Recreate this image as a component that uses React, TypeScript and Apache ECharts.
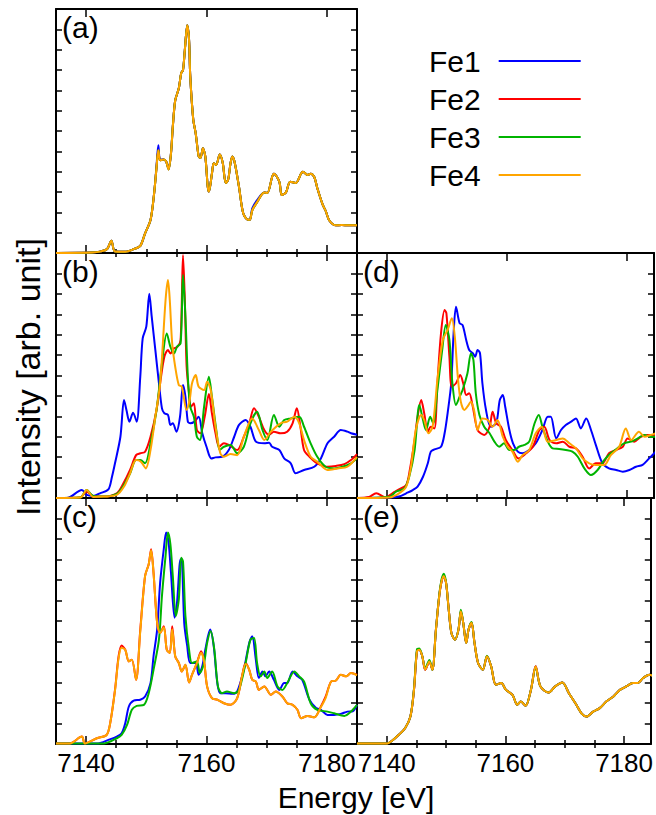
import { useEffect, useRef } from "react";
import * as echarts from "echarts";

const SERIES_NAMES = ["Fe1", "Fe2", "Fe3", "Fe4"];
const SERIES_COLORS = ["#0000ff", "#ff0000", "#00b400", "#ffa500"];
const MAJOR_TICKS = [7140, 7160, 7180];
const MINOR_TICKS = [7145, 7150, 7155, 7165, 7170, 7175];
const PANEL_LABELS = ["(a)", "(b)", "(c)", "(d)", "(e)"];
const X_TITLE = "Energy [eV]";
const Y_TITLE = "Intensity [arb. unit]";

// ---------- panel (a) ----------
const aFe1 = [[7135,0],[7141,0.02],[7142.5,0.08],[7143.5,0.2],[7144.2,0.6],[7144.8,0.07],[7146.5,0.06],[7148,0.2],[7149,0.35],[7149.8,0.97],[7150.7,1.62],[7151.3,2.93],[7151.7,4.3],[7152,5.3],[7152.3,4.6],[7152.9,4.6],[7153.3,4.5],[7153.7,4.15],[7154.1,4.9],[7154.4,6.2],[7154.8,7.5],[7155.4,8.1],[7155.8,8.85],[7156.1,9.0],[7156.4,9.98],[7156.8,11.2],[7157.1,10.5],[7157.3,8.7],[7157.8,6.56],[7158.2,5.9],[7158.7,4.75],[7159.0,4.67],[7159.4,5.15],[7159.8,4.75],[7160.2,3.28],[7160.4,3.02],[7160.9,3.9],[7161.2,4.41],[7161.6,4.33],[7162.2,4.85],[7162.7,4.43],[7163.2,3.44],[7163.6,3.61],[7164,4.43],[7164.3,4.75],[7164.7,4.43],[7165.4,3.25],[7166.1,1.95],[7166.9,1.64],[7167.2,1.64],[7167.6,2.2],[7168.4,2.6],[7169.6,2.98],[7170.1,2.95],[7170.9,3.74],[7171.2,3.9],[7172.1,3.5],[7172.5,2.85],[7173.2,2.98],[7173.9,3.51],[7174.8,3.44],[7175.7,3.9],[7176,4.0],[7176.8,3.84],[7177.3,3.9],[7177.9,3.74],[7178.4,3.2],[7179.3,2.38],[7179.8,2.07],[7180.4,1.6],[7181.5,1.36],[7182.5,1.38],[7183.5,1.36],[7185,1.36]];
const aRest = [[7135,0],[7141,0.02],[7142.5,0.08],[7143.5,0.2],[7144.2,0.6],[7144.8,0.07],[7146.5,0.06],[7148,0.2],[7149,0.35],[7149.8,0.97],[7150.7,1.62],[7151.3,2.93],[7151.7,4.2],[7152,5.05],[7152.3,4.56],[7152.9,4.6],[7153.3,4.5],[7153.7,4.11],[7154.1,4.9],[7154.4,6.2],[7154.8,7.5],[7155.4,8.1],[7155.8,8.85],[7156.1,9.0],[7156.4,9.98],[7156.8,11.2],[7157.1,10.5],[7157.3,8.7],[7157.8,6.56],[7158.2,5.9],[7158.7,4.75],[7159.0,4.67],[7159.4,5.15],[7159.8,4.75],[7160.2,3.28],[7160.4,3.02],[7160.9,3.9],[7161.2,4.41],[7161.6,4.33],[7162.2,4.85],[7162.7,4.43],[7163.2,3.44],[7163.6,3.61],[7164,4.43],[7164.3,4.75],[7164.7,4.43],[7165.4,3.25],[7166.1,1.95],[7166.9,1.64],[7167.2,1.64],[7167.6,2.1],[7168.4,2.5],[7169.6,2.98],[7170.1,2.95],[7170.9,3.74],[7171.2,3.9],[7172.1,3.5],[7172.5,2.85],[7173.2,2.98],[7173.9,3.51],[7174.8,3.44],[7175.7,3.9],[7176,4.0],[7176.8,3.84],[7177.3,3.9],[7177.9,3.74],[7178.4,3.2],[7179.3,2.38],[7179.8,2.07],[7180.4,1.6],[7181.5,1.36],[7182.5,1.38],[7183.5,1.36],[7185,1.36]];

// ---------- panel (b) ----------
const bFe1 = [[7135,0],[7136.8,0.0],[7139.3,0.39],[7140.1,0.15],[7141.2,0.1],[7142.3,0.23],[7143.7,0.42],[7144.3,1.04],[7144.8,1.7],[7145.7,3.0],[7146.3,4.8],[7146.7,4.31],[7147.2,3.74],[7147.8,4.18],[7148.4,3.74],[7149,5.94],[7149.4,7.82],[7150,8.39],[7150.5,10.0],[7150.9,8.88],[7151.5,7.25],[7152.1,5.62],[7152.6,4.39],[7153,4.15],[7153.6,4.07],[7154,3.58],[7154.4,3.66],[7155,3.25],[7155.6,3.98],[7156.1,5.53],[7156.5,4.96],[7156.9,3.74],[7157.3,3.66],[7158,3.74],[7158.7,3.98],[7159.3,3.17],[7160,2.51],[7160.8,1.94],[7161.5,1.99],[7162.6,2.02],[7163.7,2.35],[7164.6,3.0],[7165.4,3.58],[7166.5,3.82],[7167.3,3.49],[7168.2,2.76],[7169.6,2.68],[7170.4,2.71],[7170.9,2.51],[7172.1,2.35],[7172.9,1.94],[7174,1.7],[7174.8,1.21],[7176.2,1.37],[7177.9,1.53],[7179,1.94],[7180.1,2.68],[7181.2,3.0],[7182.3,3.33],[7183.4,3.25],[7184,3.17],[7185,3.1]];
const bFe2 = [[7135,0],[7139,0.02],[7140.1,0.31],[7141.2,0.1],[7142.9,0.07],[7145.1,0.23],[7146.2,0.72],[7147.3,1.37],[7148.3,2.1],[7149,2.19],[7149.8,2.27],[7150.7,3.0],[7151.7,4.31],[7152.3,5.62],[7153,6.92],[7153.6,7.25],[7154,7.08],[7154.6,7.33],[7155.2,7.41],[7155.7,7.74],[7156.1,11.9],[7156.4,9.7],[7156.7,6.43],[7157.1,5.13],[7157.4,4.47],[7157.9,4.64],[7158.4,3.33],[7159,3.17],[7159.7,3.98],[7160.4,5.09],[7160.9,4.15],[7161.5,3.17],[7162.1,2.51],[7162.9,2.68],[7163.7,2.6],[7165.1,2.35],[7166.2,3.0],[7167.1,3.66],[7167.9,4.39],[7168.7,3.98],[7169.6,3.33],[7170.4,3.09],[7171.2,3.25],[7172.3,3.17],[7173.4,3.25],[7174.3,3.66],[7175,4.39],[7175.6,3.49],[7176.2,2.35],[7177.1,2.02],[7178.4,1.7],[7180.1,1.53],[7181.5,1.57],[7182.9,1.66],[7184,1.86],[7185,2.15]];
const bFe3 = [[7135,0],[7139,0.02],[7140.1,0.39],[7141.2,0.1],[7142.9,0.07],[7145.1,0.2],[7146.2,0.6],[7147.3,1.2],[7148.3,1.86],[7149,1.86],[7149.8,1.7],[7150.7,2.68],[7151.7,4.31],[7152.6,6.6],[7153.4,8.06],[7154,7.41],[7154.6,7.08],[7155.1,7.41],[7155.7,7.57],[7156.1,10.92],[7156.5,8.88],[7156.9,5.94],[7157.3,4.47],[7157.9,3.98],[7158.4,3.0],[7158.9,2.84],[7159.6,4.47],[7160.4,5.94],[7160.9,4.96],[7161.7,3.17],[7162.2,2.35],[7162.9,2.51],[7164,2.6],[7165.1,2.19],[7166.2,2.51],[7167.3,3.66],[7168.4,4.23],[7169.3,3.33],[7170.1,2.84],[7171.2,4.07],[7172.1,3.49],[7172.9,3.82],[7174,3.9],[7175.4,3.98],[7176.2,3.49],[7177.3,2.68],[7178.4,2.02],[7179.8,1.53],[7181.2,1.45],[7182.6,1.53],[7184,1.7],[7185,1.94]];
const bFe4 = [[7135,0],[7139,0.02],[7140.1,0.39],[7141.2,0.05],[7142.9,0.07],[7145.1,0.15],[7146.3,0.56],[7147.3,1.21],[7148.3,1.86],[7149.1,1.78],[7149.9,1.45],[7150.7,2.35],[7151.5,3.98],[7152.3,5.62],[7153.2,9.7],[7153.6,10.68],[7153.9,9.7],[7154.3,7.57],[7154.8,6.43],[7155.4,5.53],[7155.9,5.45],[7156.7,4.31],[7157.2,4.8],[7157.6,5.62],[7158.2,6.02],[7158.7,5.45],[7159.6,5.29],[7160.1,5.7],[7160.7,5.29],[7161.5,3.49],[7162.3,2.19],[7162.9,2.02],[7164,2.15],[7165.1,2.1],[7166.2,3.0],[7167.6,3.9],[7168.7,3.33],[7169.6,2.84],[7170.7,3.25],[7172.3,3.66],[7173.4,3.74],[7174.6,3.98],[7175.4,3.66],[7176.2,2.84],[7177.3,2.02],[7178.4,1.78],[7180.1,1.37],[7181.8,1.45],[7183.4,1.53],[7185,2.02]];

// ---------- panel (c) ----------
const cFe1 = [[7135,0.02],[7142,0.03],[7143.7,0.2],[7145.1,0.36],[7145.9,0.52],[7146.5,1.01],[7147.1,1.83],[7147.9,2.12],[7149,2.16],[7149.8,2.32],[7150.7,2.97],[7151.2,4.28],[7151.8,5.58],[7152.3,7.87],[7152.9,9.5],[7153.3,10.32],[7153.7,9.83],[7154.1,8.36],[7154.7,6.16],[7155.1,6.89],[7155.7,9.01],[7155.9,9.0],[7156.3,5.91],[7156.8,4.77],[7157.3,3.95],[7158.2,3.95],[7158.7,3.38],[7159.3,3.79],[7159.8,4.6],[7160.6,5.58],[7161.2,4.77],[7161.8,2.97],[7162.3,2.48],[7163.2,2.48],[7164.3,2.45],[7165.1,2.56],[7166.2,3.62],[7167.1,4.93],[7167.6,5.26],[7168.2,4.11],[7168.7,3.22],[7169.3,3.54],[7169.8,3.3],[7170.4,3.54],[7171.2,3.13],[7172.1,2.64],[7172.9,2.97],[7173.4,2.97],[7174.3,3.54],[7175.1,3.3],[7175.9,3.13],[7177.1,2.16],[7178.2,1.75],[7179,1.67],[7180.1,1.42],[7181.2,1.42],[7182.3,1.47],[7183.4,1.58],[7184.3,1.6],[7185,1.91]];
const cFe2 = [[7135,0.02],[7137.3,0.03],[7139.3,0.36],[7139.8,0.03],[7141.8,0.28],[7143.4,0.44],[7144,1.01],[7144.8,2.64],[7145.4,4.28],[7145.9,4.8],[7146.5,4.6],[7147.1,4.03],[7147.6,4.11],[7148.3,3.13],[7149,5.58],[7149.8,8.2],[7150.4,8.77],[7150.8,9.5],[7151.2,8.36],[7151.8,5.91],[7152.3,5.42],[7152.9,5.75],[7153.4,4.6],[7153.9,4.44],[7154.3,5.75],[7154.8,4.28],[7155.4,3.95],[7155.9,3.54],[7156.5,3.87],[7157.1,3.0],[7157.6,3.38],[7158.4,3.95],[7159.1,4.52],[7159.6,4.03],[7160.1,2.81],[7160.9,2.24],[7161.8,2.16],[7162.9,1.99],[7164,1.91],[7165.1,2.24],[7165.9,3.3],[7166.5,3.95],[7167.1,3.62],[7167.6,3.13],[7168.2,3.05],[7168.7,2.64],[7169.6,2.81],[7170.7,2.4],[7171.5,2.56],[7172.6,2.32],[7173.4,1.99],[7174.3,1.91],[7175.1,1.67],[7175.7,1.26],[7176.8,1.37],[7177.9,1.3],[7179,1.83],[7179.8,2.32],[7180.7,3.05],[7181.5,3.1],[7182.3,3.38],[7183.2,3.3],[7184,3.46],[7185,3.38]];
const cFe3 = [[7135,0.02],[7143,0.03],[7145.1,0.28],[7145.9,0.44],[7146.8,0.93],[7147.6,1.67],[7148.4,1.86],[7149.6,1.91],[7150.4,2.48],[7151.2,3.62],[7152.1,5.09],[7152.6,7.22],[7153.2,9.18],[7153.6,10.32],[7154,9.75],[7154.4,8.2],[7154.9,6.24],[7155.4,7.05],[7155.8,9.09],[7156.1,8.9],[7156.5,6.24],[7157.1,4.6],[7157.6,3.95],[7158.4,4.03],[7158.9,3.46],[7159.6,3.95],[7160.1,4.93],[7160.7,5.5],[7161.3,4.6],[7161.9,2.81],[7162.6,2.48],[7163.4,2.56],[7164.6,2.48],[7165.4,2.64],[7166.5,3.95],[7167.3,5.09],[7167.9,5.17],[7168.4,3.95],[7169,3.3],[7169.6,3.54],[7170.1,3.22],[7170.9,3.54],[7171.8,2.81],[7172.6,2.64],[7173.4,2.97],[7174.6,3.54],[7175.4,3.3],[7176.2,3.05],[7177.3,1.99],[7178.4,1.67],[7180.1,1.58],[7181.2,1.5],[7182.9,1.37],[7184,1.58],[7185,1.91]];
const cFe4 = [[7135,0.02],[7137.3,0.03],[7139.3,0.36],[7139.8,0.03],[7141.8,0.28],[7143.4,0.44],[7144,1.01],[7144.8,2.6],[7145.4,4.2],[7145.9,4.7],[7146.5,4.6],[7147.1,4.03],[7147.6,4.11],[7148.3,3.13],[7149,5.5],[7149.8,8.2],[7150.4,8.77],[7150.8,9.45],[7151.2,8.36],[7151.8,5.91],[7152.3,5.42],[7152.9,5.7],[7153.4,4.6],[7153.9,4.44],[7154.3,5.6],[7154.8,4.28],[7155.4,3.95],[7155.9,3.54],[7156.5,3.87],[7157.1,3.0],[7157.6,3.38],[7158.4,3.95],[7159.1,4.45],[7159.6,4.03],[7160.1,2.81],[7160.9,2.24],[7161.8,2.16],[7162.9,1.99],[7164,1.91],[7165.1,2.24],[7165.9,3.3],[7166.5,3.9],[7167.1,3.62],[7167.6,3.13],[7168.2,3.05],[7168.7,2.64],[7169.6,2.81],[7170.7,2.4],[7171.5,2.56],[7172.6,2.32],[7173.4,1.99],[7174.3,1.91],[7175.1,1.67],[7175.7,1.26],[7176.8,1.37],[7177.9,1.3],[7179,1.8],[7179.8,2.25],[7180.7,3.05],[7181.5,3.1],[7182.3,3.38],[7183.2,3.3],[7184,3.46],[7185,3.35]];

// ---------- panel (d) ----------
const dFe1 = [[7135,0],[7140,0.02],[7142,0.07],[7143.2,0.23],[7144.3,0.39],[7145.1,0.56],[7146,1.04],[7146.8,1.7],[7147.3,2.27],[7147.9,2.38],[7149,2.51],[7149.6,3.17],[7150.1,4.15],[7150.7,5.62],[7151.1,8.07],[7151.5,9.37],[7152.1,8.56],[7152.6,8.47],[7153.2,7.74],[7153.7,7.25],[7154.3,7.09],[7154.7,6.92],[7155.1,7.25],[7155.5,7.09],[7155.9,5.62],[7156.5,4.31],[7157.3,3.49],[7158.2,3.66],[7158.8,4.8],[7159.3,5.04],[7159.7,4.47],[7160.4,3.33],[7161,2.68],[7161.8,2.27],[7162.6,2.19],[7163.7,2.35],[7164.8,2.68],[7165.9,3.33],[7166.8,3.98],[7167.3,3.98],[7168.2,2.92],[7169,3.33],[7169.8,3.58],[7170.7,3.74],[7171.5,3.9],[7172.3,3.41],[7173.2,3.9],[7174,3.33],[7174.8,2.6],[7175.9,1.7],[7177,1.45],[7178.2,1.37],[7179.3,1.29],[7180.4,1.37],[7181.5,1.53],[7182.6,1.62],[7183.7,1.94],[7184.8,2.27]];
const dFe2 = [[7135,0],[7137,0.05],[7138.2,0.23],[7139.8,0.03],[7140.9,0.23],[7142,0.42],[7143.2,0.64],[7143.8,1.37],[7144.6,2.84],[7145.1,3.98],[7145.7,4.8],[7146.2,4.15],[7146.8,3.25],[7147.3,3.49],[7147.9,3.41],[7148.4,5.62],[7149,8.07],[7149.6,9.21],[7149.9,9.05],[7150.4,6.92],[7150.8,5.45],[7151.5,5.62],[7152.2,6.02],[7152.7,5.62],[7153.2,5.04],[7153.7,5.13],[7154.3,4.47],[7155.1,3.33],[7156.2,3.09],[7157.1,3.49],[7157.6,4.23],[7158.2,3.66],[7159,3.49],[7159.8,2.84],[7160.9,2.35],[7161.9,1.94],[7163.2,2.19],[7164.3,2.51],[7165.4,3.33],[7166.2,3.49],[7167.1,2.84],[7168.2,2.68],[7169.3,2.76],[7170.4,2.51],[7171.5,2.43],[7172.6,2.02],[7173.7,1.45],[7174.8,1.7],[7175.9,1.7],[7177,2.19],[7178.2,2.35],[7179.3,2.51],[7180.1,2.92],[7181.2,2.76],[7182.3,3.0],[7183.4,3.09],[7184.8,3.09]];
const dFe3 = [[7135,0],[7140.4,0.06],[7141.5,0.31],[7142.9,0.47],[7143.7,1.04],[7144.6,2.35],[7145.4,4.55],[7146,3.82],[7146.5,3.33],[7147.2,3.98],[7147.7,3.66],[7148.4,5.29],[7149.2,7.25],[7149.8,8.47],[7150.4,7.74],[7150.9,5.62],[7151.5,4.55],[7152.1,4.96],[7152.6,5.29],[7153.4,6.1],[7154,7.09],[7154.4,6.76],[7154.8,5.13],[7155.4,4.07],[7156.2,3.49],[7157.1,3.17],[7157.9,2.76],[7158.7,2.51],[7159.5,2.68],[7160.4,2.35],[7161.2,2.35],[7162,2.51],[7162.9,2.6],[7163.7,2.76],[7164.6,3.66],[7165.3,4.07],[7165.9,3.49],[7166.8,2.76],[7167.6,2.43],[7168.7,2.4],[7169.8,2.35],[7170.9,2.27],[7171.8,2.02],[7172.9,1.45],[7174,1.13],[7175.1,1.37],[7176.2,1.86],[7177.3,2.19],[7178.4,2.43],[7179.5,2.68],[7180.7,2.76],[7181.8,2.92],[7182.9,3.09],[7184,3.0],[7184.8,3.0]];
const dFe4 = [[7135,0],[7140.4,0.03],[7142,0.23],[7143.2,0.56],[7144,1.53],[7144.8,3.33],[7145.7,4.07],[7146.2,3.82],[7146.9,3.17],[7147.6,3.49],[7148.4,5.78],[7149.3,7.74],[7150.1,8.23],[7150.8,8.8],[7151.3,7.9],[7151.8,5.94],[7152.3,4.72],[7152.9,4.31],[7153.4,4.47],[7154,4.72],[7154.5,4.31],[7155.1,3.33],[7155.9,3.9],[7156.8,3.82],[7157.6,3.49],[7158.4,3.82],[7159.3,3.0],[7160.1,2.51],[7160.9,2.27],[7161.8,1.78],[7162.6,2.1],[7163.7,2.35],[7164.8,3.17],[7165.8,3.49],[7166.8,2.76],[7168.2,2.84],[7169.3,2.92],[7170.4,2.68],[7171.5,2.43],[7172.6,1.94],[7173.7,1.7],[7174.8,1.62],[7176.2,1.62],[7177.3,2.1],[7178.7,2.51],[7179.8,3.41],[7180.7,2.84],[7182,3.25],[7182.9,3.0],[7184,3.09],[7184.8,3.17]];

// ---------- panel (e) ----------
const eAll = [[7135,0.02],[7140.1,0.03],[7140.9,0.16],[7142,0.44],[7143.1,0.77],[7144,1.34],[7144.6,2.64],[7145.1,4.52],[7145.5,4.6],[7146,4.28],[7146.5,3.62],[7147.2,4.03],[7147.7,3.62],[7148.3,5.58],[7149,7.54],[7149.6,8.2],[7150,7.87],[7150.4,6.73],[7150.9,5.42],[7151.5,5.09],[7152.1,5.58],[7152.5,6.48],[7152.9,5.91],[7153.4,4.93],[7153.8,5.58],[7154.3,5.91],[7154.8,4.93],[7155.4,3.95],[7156.2,3.62],[7156.9,4.28],[7157.6,3.79],[7158.4,2.89],[7159.3,2.97],[7160.1,2.64],[7161.2,2.4],[7162,1.91],[7162.6,2.07],[7163.4,1.86],[7164.3,2.64],[7165.1,3.79],[7165.9,2.81],[7167.3,2.51],[7168.4,2.81],[7169.6,3.0],[7170.7,2.48],[7171.8,1.99],[7172.9,1.47],[7173.7,1.34],[7174.8,1.58],[7175.9,1.75],[7177,2.07],[7178.2,2.32],[7179.3,2.64],[7180.4,2.81],[7181.5,2.97],[7182.3,2.97],[7183.2,3.22],[7184.3,3.38],[7184.8,3.33]];
const eFe3 = [[7135,0.02],[7140.1,0.03],[7140.9,0.16],[7142,0.44],[7143.1,0.77],[7144,1.34],[7144.6,2.7],[7145.1,4.62],[7145.5,4.66],[7146,4.28],[7146.5,3.7],[7147.2,4.1],[7147.7,3.62],[7148.3,5.58],[7149,7.6],[7149.6,8.3],[7150,7.9],[7150.4,6.73],[7150.9,5.42],[7151.5,5.09],[7152.1,5.6],[7152.5,6.55],[7152.9,5.91],[7153.4,4.93],[7153.8,5.6],[7154.3,5.95],[7154.8,4.93],[7155.4,3.95],[7156.2,3.62],[7156.9,4.3],[7157.6,3.79],[7158.4,2.89],[7159.3,2.97],[7160.1,2.64],[7161.2,2.4],[7162,1.91],[7162.6,2.07],[7163.4,1.86],[7164.3,2.64],[7165.1,3.75],[7165.9,2.81],[7167.3,2.51],[7168.4,2.81],[7169.6,3.0],[7170.7,2.48],[7171.8,1.99],[7172.9,1.47],[7173.7,1.34],[7174.8,1.58],[7175.9,1.75],[7177,2.07],[7178.2,2.32],[7179.3,2.64],[7180.4,2.81],[7181.5,2.97],[7182.3,2.97],[7183.2,3.22],[7184.3,3.38],[7184.8,3.33]];

const X_MIN = 7135;
const FONT = '"Liberation Sans", Arial, Helvetica, sans-serif';

const PANELS = [
  { label: PANEL_LABELS[0], data: [aFe1, aRest, aRest, aRest], left: 56, top: 9, width: 301, height: 244, xMax: 7185, tickLabels: false },
  { label: PANEL_LABELS[1], data: [bFe1, bFe2, bFe3, bFe4], left: 56, top: 253, width: 301, height: 245, xMax: 7185, tickLabels: false },
  { label: PANEL_LABELS[2], data: [cFe1, cFe2, cFe3, cFe4], left: 56, top: 498, width: 301, height: 246, xMax: 7185, tickLabels: true },
  { label: PANEL_LABELS[3], data: [dFe1, dFe2, dFe3, dFe4], left: 357, top: 253, width: 297, height: 245, xMax: 7184.5, tickLabels: false },
  { label: PANEL_LABELS[4], data: [eAll, eAll, eFe3, eAll], left: 357, top: 498, width: 297, height: 246, xMax: 7184.5, tickLabels: true },
];

function buildOption() {
  const grid: any[] = [];
  const xAxis: any[] = [];
  const yAxis: any[] = [];
  const series: any[] = [];
  const graphic: any[] = [];
  const border = { show: true, onZero: false, lineStyle: { color: "#000", width: 2 } };
  const tickStyle = { color: "#000", width: 1.5 };

  PANELS.forEach((p, i) => {
    grid.push({ left: p.left, top: p.top, width: p.width, height: p.height, containLabel: false });
    const base = { type: "value", gridIndex: i, min: X_MIN, max: p.xMax, splitLine: { show: false } };
    xAxis.push({
      ...base, position: "bottom", axisLine: border,
      axisTick: { show: true, inside: true, length: 8, customValues: MAJOR_TICKS, lineStyle: tickStyle },
      axisLabel: {
        show: p.tickLabels, customValues: MAJOR_TICKS, fontSize: 26, color: "#000", fontFamily: FONT, margin: 6,
        formatter: (v: number) => String(v),
      },
    });
    xAxis.push({
      ...base, position: "bottom", axisLine: { show: false },
      axisTick: { show: true, inside: true, length: 4, customValues: MINOR_TICKS, lineStyle: tickStyle },
      axisLabel: { show: false },
    });
    xAxis.push({
      ...base, position: "top", axisLine: border,
      axisTick: { show: true, inside: true, length: 8, customValues: MAJOR_TICKS, lineStyle: tickStyle },
      axisLabel: { show: false },
    });
    xAxis.push({
      ...base, position: "top", axisLine: { show: false },
      axisTick: { show: true, inside: true, length: 4, customValues: MINOR_TICKS, lineStyle: tickStyle },
      axisLabel: { show: false },
    });
    const yBase = {
      type: "value", gridIndex: i, min: 0, max: 12, interval: 1, axisLine: border,
      axisTick: { show: true, inside: true, length: 6, lineStyle: tickStyle },
      axisLabel: { show: false }, splitLine: { show: false },
    };
    yAxis.push({ ...yBase, position: "left" });
    yAxis.push({ ...yBase, position: "right" });
    p.data.forEach((d, k) => {
      series.push({
        type: "line", name: SERIES_NAMES[k], xAxisIndex: 4 * i, yAxisIndex: 2 * i,
        data: d, symbol: "none", showSymbol: false, smooth: 0.3,
        lineStyle: { width: 2, color: SERIES_COLORS[k] }, itemStyle: { color: SERIES_COLORS[k] },
        emphasis: { disabled: true },
      });
    });
    graphic.push({
      type: "text", x: p.left + 6, y: p.top + 3,
      style: { text: p.label, fontSize: 30, fontFamily: FONT, fill: "#000", align: "left", verticalAlign: "top" },
    });
  });

  graphic.push({
    type: "text", x: 356, y: 797,
    style: { text: X_TITLE, fontSize: 30, fontFamily: FONT, fill: "#000", align: "center", verticalAlign: "middle" },
  });
  graphic.push({
    type: "text", x: 28, y: 377, rotation: Math.PI / 2,
    style: { text: Y_TITLE, fontSize: 34, fontFamily: FONT, fill: "#000", align: "center", verticalAlign: "middle" },
  });

  return {
    animation: false,
    backgroundColor: "#fff",
    grid, xAxis, yAxis, series, graphic,
    legend: {
      data: SERIES_NAMES.map((n) => ({ name: n, icon: "rect" })),
      orient: "vertical", left: 429, top: 46, padding: 0,
      align: "right", itemWidth: 82, itemHeight: 2, itemGap: 8, selectedMode: false,
      textStyle: { fontSize: 30, lineHeight: 30, fontFamily: FONT, color: "#000", padding: [0, 13, 0, 0] },
    },
  };
}

export default function App() {
  const ref = useRef<HTMLDivElement>(null);
  useEffect(() => {
    if (!ref.current) return;
    const chart = echarts.init(ref.current, null, { renderer: "svg" });
    chart.setOption(buildOption() as any);
    return () => chart.dispose();
  }, []);
  return <div ref={ref} style={{ position: "absolute", left: 0, top: 0, width: 656, height: 815 }} />;
}
